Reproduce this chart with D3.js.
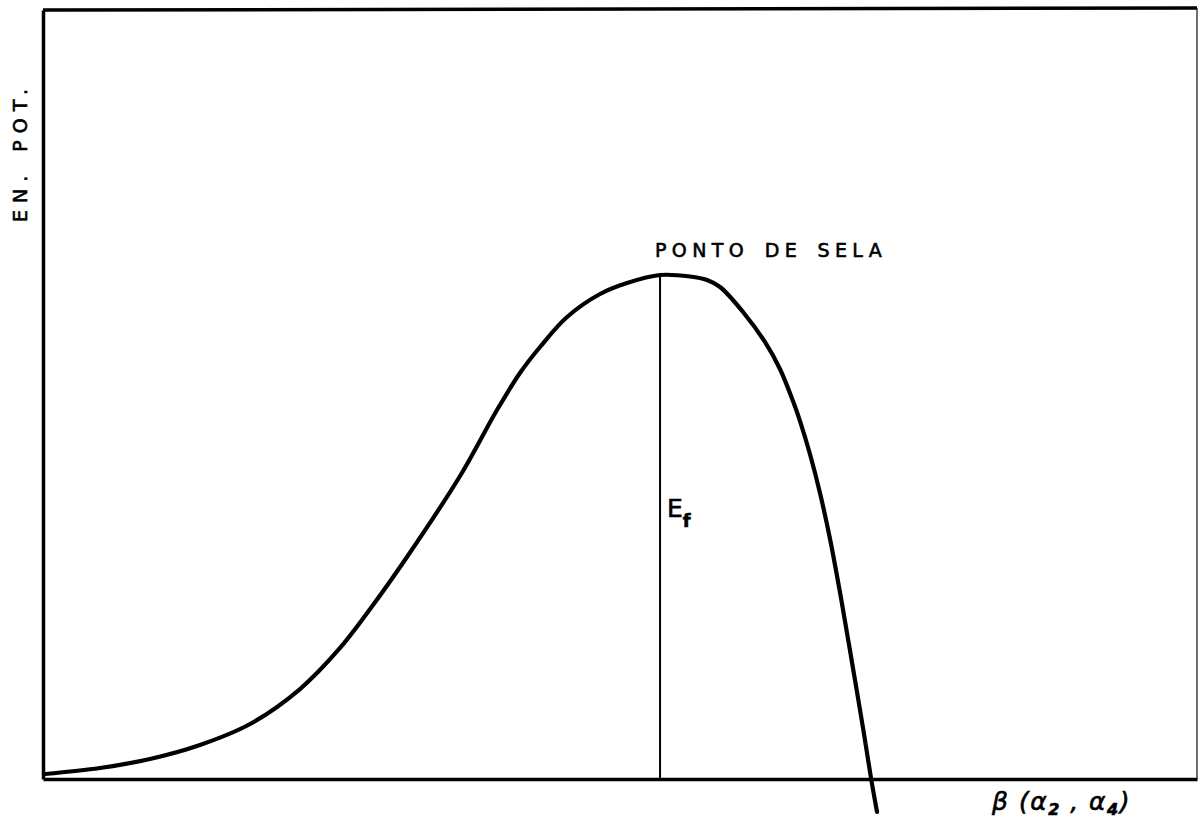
<!DOCTYPE html>
<html>
<head>
<meta charset="utf-8">
<script src="https://cdn.jsdelivr.net/npm/d3@7"></script>
<style>
  html, body { margin: 0; padding: 0; background: #fff; }
  svg { display: block; }
  .lbl { font-family: "DejaVu Sans", "Liberation Sans", sans-serif; fill: #000; stroke: #000; stroke-width: 0.6; }
</style>
</head>
<body>
<svg id="chart" width="1200" height="820"></svg>
<script>
// Deformation parameter beta (arbitrary units, 0-100 across the frame)
const beta = [0.17, 4.94, 9.27, 13.60, 17.94, 22.27, 25.74, 28.60, 31.54, 36.14, 39.34, 41.33, 43.07, 45.41, 48.27, 50.61, 53.47,
              56.07, 57.54, 58.67, 60.66, 62.56, 63.86, 64.99, 65.60, 66.46, 67.33, 68.20, 69.15, 70.10, 71.06, 71.75, 72.27];
// Potential energy along the fission path (arbitrary units)
const energy = [0.65, 1.43, 2.60, 4.42, 7.15, 11.70, 17.04, 22.63, 28.87, 39.40, 47.98, 52.80, 56.18, 60.08, 63.07, 64.50, 65.54,
                65.34, 64.89, 63.98, 60.73, 56.83, 53.32, 49.15, 46.55, 42.26, 37.19, 31.21, 23.54, 15.21, 6.63, 0.13, -4.29];
// Saddle point: barrier height E_f
const saddleBeta = 53.47;
const saddleEnergy = 65.54;

const svg = d3.select("#chart");
const x = d3.scaleLinear().domain([0, 100]).range([43, 1197]);
const y = d3.scaleLinear().domain([0, 100]).range([779, 10]);

// Frame: heavy left/top/bottom, light right edge
const axisB = d3.axisBottom(x).tickValues([]).tickSizeOuter(0);
const axisL = d3.axisLeft(y).tickValues([]).tickSizeOuter(0);
svg.append("g").attr("transform", `translate(0,${y(0)})`).call(axisB)
  .select(".domain").attr("stroke", "#000").attr("stroke-width", 3.5);
svg.append("g").attr("transform", `translate(${x(0)},0)`).call(axisL)
  .select(".domain").attr("stroke", "#000").attr("stroke-width", 3.5);
svg.append("line")
  .attr("x1", x(0)).attr("x2", x(100)).attr("y1", y(100)).attr("y2", y(100) - 2)
  .attr("stroke", "#000").attr("stroke-width", 3.5);
svg.append("line")
  .attr("x1", x(100)).attr("x2", x(100)).attr("y1", y(100) - 2).attr("y2", y(0))
  .attr("stroke", "#222").attr("stroke-width", 1.3);

// Barrier height marker
svg.append("line")
  .attr("x1", x(saddleBeta)).attr("x2", x(saddleBeta))
  .attr("y1", y(0)).attr("y2", y(saddleEnergy))
  .attr("stroke", "#000").attr("stroke-width", 2);

// Potential energy curve
const pts = beta.map((b, i) => [b, energy[i]]);
const line = d3.line()
  .x(d => x(d[0])).y(d => y(d[1]))
  .curve(d3.curveCatmullRom.alpha(0.5));
svg.append("path")
  .attr("d", line(pts))
  .attr("fill", "none").attr("stroke", "#000")
  .attr("stroke-width", 4.2).attr("stroke-linecap", "round").attr("stroke-linejoin", "round");

// Labels
svg.append("text").attr("class", "lbl")
  .attr("transform", "translate(27,222) rotate(-90)")
  .attr("text-anchor", "start")
  .attr("font-size", 19).attr("letter-spacing", 7).attr("word-spacing", 4)
  .text("EN. POT.");

svg.append("text").attr("class", "lbl")
  .attr("x", 655).attr("y", 257)
  .attr("font-size", 19).attr("letter-spacing", 5.4).attr("word-spacing", 4)
  .text("PONTO DE SELA");

const ef = svg.append("text").attr("class", "lbl")
  .attr("x", x(saddleBeta) + 7).attr("y", 517)
  .attr("font-size", 25);
ef.append("tspan").text("E");
ef.append("tspan").attr("font-size", 18).attr("dy", 10).attr("font-weight", "bold").text("f");

const bl = svg.append("text").attr("class", "lbl")
  .attr("x", 992).attr("y", 810)
  .attr("font-size", 25).attr("font-style", "italic").attr("letter-spacing", 1.5);
bl.append("tspan").text("β (α");
bl.append("tspan").attr("font-size", 16).attr("dy", 5).attr("font-weight", "bold").text("2");
bl.append("tspan").attr("dy", -5).text(" , α");
bl.append("tspan").attr("font-size", 16).attr("dy", 5).attr("font-weight", "bold").text("4");
bl.append("tspan").attr("dy", -5).text(")");
</script>
</body>
</html>
